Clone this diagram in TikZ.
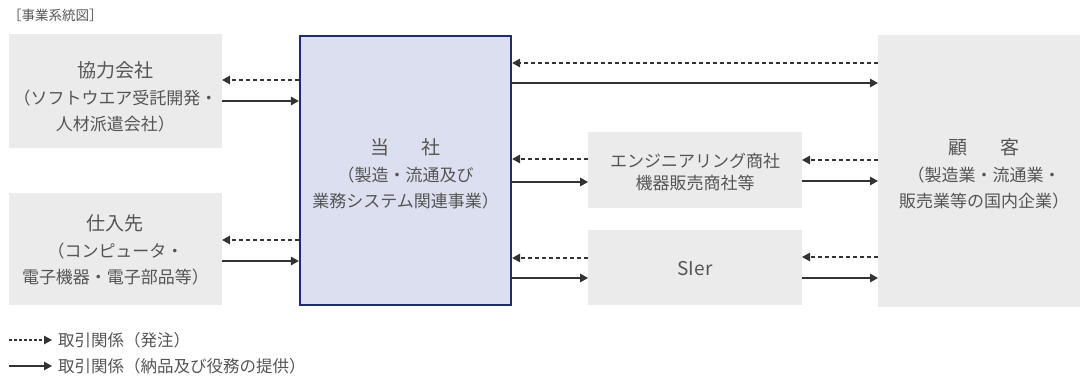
\documentclass[tikz,border=0pt]{standalone}
\usepackage{fontspec}
\setmainfont{Noto Sans CJK JP}
\usetikzlibrary{arrows.meta,calc}
\definecolor{boxgray}{HTML}{EBEBEB}
\definecolor{tfill}{HTML}{DCDFF0}
\definecolor{tborder}{HTML}{1F2D6D}
\definecolor{txtgray}{HTML}{555555}
\definecolor{arr}{HTML}{333333}
\newcommand{\bighead}{\fontsize{19}{26.5}\selectfont}
\begin{document}
\begin{tikzpicture}[x=1pt,y=-1pt,
  gbox/.style={fill=boxgray, draw=none, inner sep=0pt, outer sep=0pt},
  tbox/.style={fill=tfill, draw=tborder, line width=2.2pt, inner sep=0pt},
  txt/.style={text=txtgray, align=center, inner sep=0pt, font=\fontsize{17}{26.5}\selectfont},
  legtxt/.style={text=txtgray, anchor=west, inner sep=0pt, font=\fontsize{16.5}{18}\selectfont},
  solidarr/.style={draw=arr, line width=1.6pt, -{Triangle[length=8pt,width=8.5pt]}},
  dasharr/.style={draw=arr, line width=1.4pt, dash pattern=on 4pt off 3pt, -{Triangle[length=8pt,width=8.5pt]}}
]
\useasboundingbox (0,0) rectangle (1080,380);
% title
\node[text=txtgray, anchor=west, inner sep=0pt, font=\fontsize{13.5}{15}\selectfont] (title) at (8,15) {［事業系統図］};
% boxes
\node[gbox, minimum width=213pt, minimum height=114pt] (kyo) at (115.5,90.5) {};
\node[gbox, minimum width=213pt, minimum height=112pt] (shi) at (115.5,249) {};
\node[tbox, minimum width=211pt, minimum height=269pt] (tosha) at (405.5,170.5) {};
\node[gbox, minimum width=214pt, minimum height=76pt] (eng) at (695,170) {};
\node[gbox, minimum width=214pt, minimum height=75pt] (sier) at (695,267.5) {};
\node[gbox, minimum width=202pt, minimum height=272pt] (kok) at (979,171) {};
% texts
\node[txt] (kyoT) at (115.5,97) {{\bighead 協力会社}\\（ソフトウエア受託開発・\\人材派遣会社）};
\node[txt] (shiT) at (115.5,250) {{\bighead 仕入先}\\（コンピュータ・\\電子機器・電子部品等）};
\node[txt] (toshaT) at (405.5,174) {{\bighead 当\hspace{32pt}社}\\（製造・流通及び\\業務システム関連事業）};
\node[txt, font=\fontsize{17}{22.5}\selectfont] (engT) at (695,172) {エンジニアリング商社\\機器販売商社等};
\node[txt, font=\fontsize{19}{20}\selectfont] (sierT) at (695,269) {SIer};
\node[txt] (kokT) at (984,174) {{\bighead 顧\hspace{34pt}客}\\（製造業・流通業・\\販売業等の国内企業）};
% arrows left
\draw[dasharr] (tosha.west |- 0,80) -- (kyo.east |- 0,80);
\draw[solidarr] (kyo.east |- 0,101) -- (tosha.west |- 0,101);
\draw[dasharr] (tosha.west |- 0,240) -- (shi.east |- 0,240);
\draw[solidarr] (shi.east |- 0,261) -- (tosha.west |- 0,261);
% arrows top
\draw[dasharr] (kok.west |- 0,63) -- (tosha.east |- 0,63);
\draw[solidarr] (tosha.east |- 0,83) -- (kok.west |- 0,83);
% engineering
\draw[dasharr] (eng.west |- 0,159) -- (tosha.east |- 0,159);
\draw[solidarr] (tosha.east |- 0,182) -- (eng.west |- 0,182);
\draw[dasharr] (kok.west |- 0,160) -- (eng.east |- 0,160);
\draw[solidarr] (eng.east |- 0,181) -- (kok.west |- 0,181);
% sier
\draw[dasharr] (sier.west |- 0,258) -- (tosha.east |- 0,258);
\draw[solidarr] (tosha.east |- 0,278) -- (sier.west |- 0,278);
\draw[dasharr] (kok.west |- 0,257) -- (sier.east |- 0,257);
\draw[solidarr] (sier.east |- 0,278) -- (kok.west |- 0,278);
% legend
\node[legtxt] (leg1) at (58,340) {取引関係（発注）};
\node[legtxt] (leg2) at (58,366) {取引関係（納品及び役務の提供）};
\coordinate (l1s) at (9,340);
\coordinate (l2s) at (9,366);
\draw[dasharr, dash pattern=on 2.5pt off 2.5pt, line width=1.2pt] (l1s) -- ([xshift=-6pt]leg1.west);
\draw[solidarr, line width=1.3pt] (l2s) -- ([xshift=-6pt]leg2.west);
\end{tikzpicture}
\end{document}
